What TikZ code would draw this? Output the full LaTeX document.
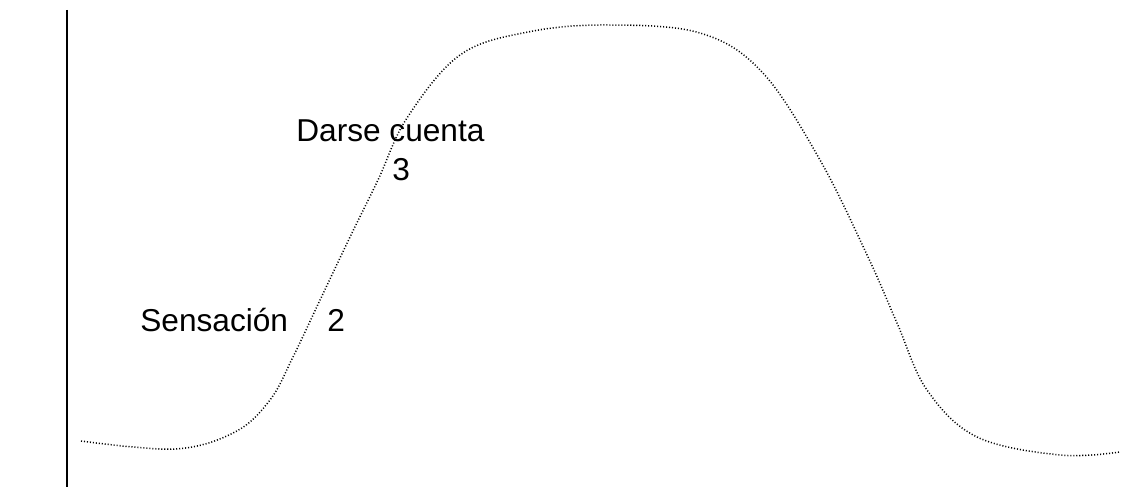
\documentclass[tikz,border=0pt]{standalone}
\usepackage{fontspec}
\setmainfont{Liberation Sans}
\usepackage{tikz}
\usetikzlibrary{calc}
\tikzset{
	label text/.style={anchor=base west, inner sep=0pt, font=\fontsize{18}{21}\selectfont},
	dotted curve/.style={line width=0.85pt, dash pattern=on 0.6pt off 1.1pt}
}

\begin{document}
\begin{tikzpicture}
			%%%%% START %%%%%
			\useasboundingbox (0, 0) rectangle (22.54, 9.74);
			
			\draw[line width=1.2pt] (1.34, 9.54) -- (1.34, 0);
			
			\draw[dotted curve] plot[smooth, tension=0.6] coordinates {
				(1.62, 0.92) (3.5, 0.76) (4.7, 1.1) (5.4, 1.74) (5.86, 2.6)
				(6.42, 3.78) (7.02, 5.04) (7.56, 6.14) (8.14, 7.38) (9.2, 8.64)
				(10.56, 9.1) (12.14, 9.24) (14.0, 9.08) (15.24, 8.3) (16.4, 6.54)
				(17.36, 4.6) (17.94, 3.28) (18.54, 1.94) (19.54, 1.0) (21.2, 0.64)
				(22.4, 0.7)};
			
			\node[label text] (darse) at (5.92, 6.9) {Darse cuenta};
			\node[label text] (tres) at (7.84, 6.12) {3};
			\node[label text] (sensacion) at (2.8, 3.1) {Sensación};
			\node[label text] (dos) at (6.54, 3.1) {2};
			%%%%% END %%%%%
		\end{tikzpicture}
\end{document}
